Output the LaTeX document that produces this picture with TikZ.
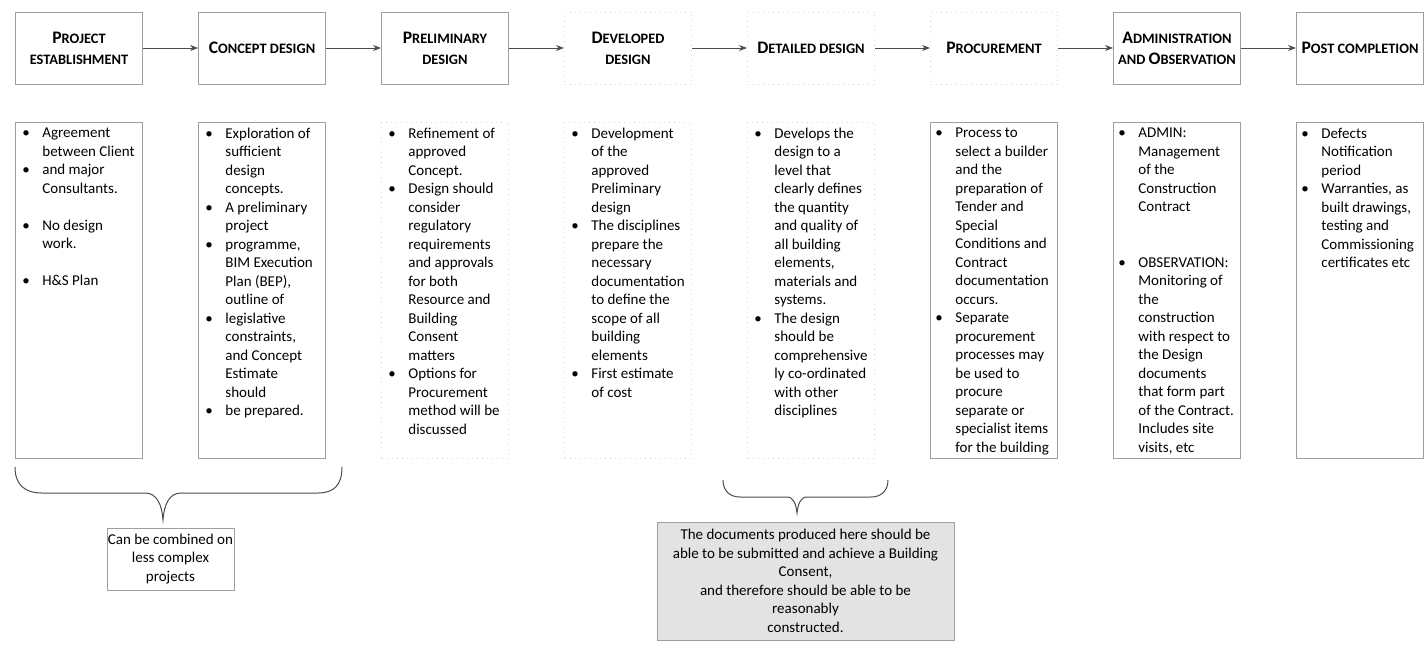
\documentclass[tikz,border=0pt]{standalone}
\usepackage{fontspec}
\setmainfont{Carlito}
\usetikzlibrary{
    arrows.meta,
    positioning
}
\tikzstyle{stage} = [
    rectangle,
    draw=gray!75,
    line width=0.5pt,
    minimum width=63.5pt,
    minimum height=36pt,
    inner sep=1pt,
    align=center,
    font=\fontsize{7.2}{10.5}\selectfont\bfseries
]
\tikzstyle{faintstage} = [
    stage,
    draw=gray!30,
    dotted
]
\tikzstyle{detail} = [
    rectangle,
    draw=gray!75,
    line width=0.5pt,
    minimum width=63.5pt,
    minimum height=168pt,
    inner sep=0pt
]
\tikzstyle{faintdetail} = [
    detail,
    draw=gray!30,
    dotted
]
\tikzstyle{points} = [
    anchor=north west,
    inner sep=0pt,
    align=left,
    font=\fontsize{7.5}{9.25}\selectfont
]
\tikzstyle{note} = [
    rectangle,
    draw=gray!75,
    line width=0.5pt,
    inner sep=0pt,
    align=center,
    font=\fontsize{7.5}{9.25}\selectfont
]
\tikzstyle{arrow} = [
    -{Stealth[length=4pt,width=3pt]},
    line width=0.5pt,
    draw=gray!60!black
]
\tikzstyle{curly} = [
    line width=0.5pt,
    draw=gray!60!black
]
% large first letter, rest in small capitals
\newcommand{\hsc}[2]{{\fontsize{8.8}{10.5}\selectfont #1}#2}
\newcommand{\bul}{\makebox[10pt][l]{•}}
\newcommand{\nobul}{\hspace*{10pt}}

\begin{document}
\begin{tikzpicture}[x=0.5pt, y=-0.5pt, node distance=27.5pt]
    \useasboundingbox (0,0) rectangle (1424,653);

    % Stages
    \node[stage] (hd1) at (79,48) {\hsc{P}{ROJECT}\\ESTABLISHMENT};
    \node[stage, right=of hd1] (hd2) {\hsc{C}{ONCEPT DESIGN}};
    \node[stage, right=of hd2] (hd3) {\hsc{P}{RELIMINARY}\\DESIGN};
    \node[faintstage, right=of hd3] (hd4) {\hsc{D}{EVELOPED}\\DESIGN};
    \node[faintstage, right=of hd4] (hd5) {\hsc{D}{ETAILED DESIGN}};
    \node[faintstage, right=of hd5] (hd6) {\hsc{P}{ROCUREMENT}};
    \node[stage, right=of hd6] (hd7) {\hsc{A}{DMINISTRATION}\\AND \hsc{O}{BSERVATION}};
    \node[stage, right=of hd7] (hd8) {\hsc{P}{OST COMPLETION}};

    \draw[arrow] (hd1) -- (hd2);
    \draw[arrow] (hd2) -- (hd3);
    \draw[arrow] (hd3) -- (hd4);
    \draw[arrow] (hd4) -- (hd5);
    \draw[arrow] (hd5) -- (hd6);
    \draw[arrow] (hd6) -- (hd7);
    \draw[arrow] (hd7) -- (hd8);

    % Details
    \node[detail, below=18.5pt of hd1] (bx1) {};
    \node[detail, below=18.5pt of hd2] (bx2) {};
    \node[faintdetail, below=18.5pt of hd3] (bx3) {};
    \node[faintdetail, below=18.5pt of hd4] (bx4) {};
    \node[faintdetail, below=18.5pt of hd5] (bx5) {};
    \node[detail, below=18.5pt of hd6] (bx6) {};
    \node[detail, below=18.5pt of hd7] (bx7) {};
    \node[detail, below=18.5pt of hd8] (bx8) {};

    \node[points] (ls1) at ([xshift=3.5pt, yshift=-3pt]bx1.north west)
        {\bul Agreement\\\nobul between Client\\\bul and major\\\nobul Consultants.\\[9.25pt]
         \bul No design\\\nobul work.\\[9.25pt]\bul H\&S Plan};
    \node[points] (ls2) at ([xshift=3.5pt, yshift=-3pt]bx2.north west)
        {\bul Exploration of\\\nobul sufficient\\\nobul design\\\nobul concepts.\\
         \bul A preliminary\\\nobul project\\\bul programme,\\\nobul BIM Execution\\
         \nobul Plan (BEP),\\\nobul outline of\\\bul legislative\\\nobul constraints,\\
         \nobul and Concept\\\nobul Estimate\\\nobul should\\\bul be prepared.};
    \node[points] (ls3) at ([xshift=3.5pt, yshift=-3pt]bx3.north west)
        {\bul Refinement of\\\nobul approved\\\nobul Concept.\\\bul Design should\\
         \nobul consider\\\nobul regulatory\\\nobul requirements\\\nobul and approvals\\
         \nobul for both\\\nobul Resource and\\\nobul Building\\\nobul Consent\\
         \nobul matters\\\bul Options for\\\nobul Procurement\\\nobul method will be\\
         \nobul discussed};
    \node[points] (ls4) at ([xshift=3.5pt, yshift=-3pt]bx4.north west)
        {\bul Development\\\nobul of the\\\nobul approved\\\nobul Preliminary\\
         \nobul design\\\bul The disciplines\\\nobul prepare the\\\nobul necessary\\
         \nobul documentation\\\nobul to define the\\\nobul scope of all\\\nobul building\\
         \nobul elements\\\bul First estimate\\\nobul of cost};
    \node[points] (ls5) at ([xshift=3.5pt, yshift=-3pt]bx5.north west)
        {\bul Develops the\\\nobul design to a\\\nobul level that\\\nobul clearly defines\\
         \nobul the quantity\\\nobul and quality of\\\nobul all building\\\nobul elements,\\
         \nobul materials and\\\nobul systems.\\\bul The design\\\nobul should be\\
         \nobul comprehensive\\\nobul ly co-ordinated\\\nobul with other\\\nobul disciplines};
    \node[points] (ls6) at ([xshift=2.5pt, yshift=-3pt]bx6.north west)
        {\bul Process to\\\nobul select a builder\\\nobul and the\\\nobul preparation of\\
         \nobul Tender and\\\nobul Special\\\nobul Conditions and\\\nobul Contract\\
         \nobul documentation\\\nobul occurs.\\\bul Separate\\\nobul procurement\\
         \nobul processes may\\\nobul be used to\\\nobul procure\\\nobul separate or\\
         \nobul specialist items\\\nobul for the building};
    \node[points] (ls7) at ([xshift=2.5pt, yshift=-3pt]bx7.north west)
        {\bul ADMIN:\\\nobul Management\\\nobul of the\\\nobul Construction\\
         \nobul Contract\\[18.5pt]\bul OBSERVATION:\\\nobul Monitoring of\\\nobul the\\
         \nobul construction\\\nobul with respect to\\\nobul the Design\\\nobul documents\\
         \nobul that form part\\\nobul of the Contract.\\\nobul Includes site\\\nobul visits, etc};
    \node[points] (ls8) at ([xshift=2.5pt, yshift=-3pt]bx8.north west)
        {\bul Defects\\\nobul Notification\\\nobul period\\\bul Warranties, as\\
         \nobul built drawings,\\\nobul testing and\\\nobul Commissioning\\\nobul certificates etc};

    % Groupings
    \draw[curly] (15,467) .. controls (15,485) and (25,493) .. (42,493) -- (145,493)
        .. controls (157,493) and (162,505) .. (163,520)
        .. controls (164,505) and (169,493) .. (181,493) -- (318,493)
        .. controls (334,493) and (342,485) .. (342,467);
    \draw[curly] (723,480) .. controls (723,491) and (730,497) .. (740,497) -- (787,497)
        .. controls (794,497) and (796,505) .. (797,513)
        .. controls (798,505) and (800,497) .. (807,497) -- (871,497)
        .. controls (881,497) and (888,491) .. (888,480);

    \node[note, minimum width=63.5pt, minimum height=31pt] (nt1) at (170.5,559)
        {Can be combined on\\less complex\\projects};
    \node[note, fill=gray!22, minimum width=148.5pt, minimum height=59pt] (nt2) at (805.5,581)
        {The documents produced here should be\\able to be submitted and achieve a Building\\
         Consent,\\and therefore should be able to be\\reasonably\\constructed.};
\end{tikzpicture}
\end{document}
